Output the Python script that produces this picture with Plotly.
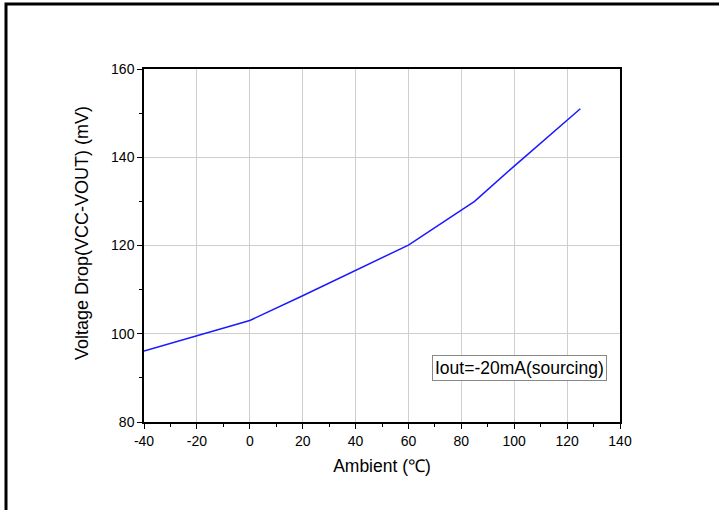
import plotly.graph_objects as go

ambient = [-40, -20, 0, 20, 40, 60, 85, 100, 125]
vdrop = [96.1, 99.6, 103.0, 108.6, 114.3, 120.1, 130.0, 138.0, 151.0]
x_ticks = [-40, -20, 0, 20, 40, 60, 80, 100, 120, 140]
y_ticks = [80, 100, 120, 140, 160]

FONT = "Arial, Liberation Sans, sans-serif"

fig = go.Figure()
fig.add_trace(go.Scatter(x=ambient, y=vdrop, mode="lines",
                         line=dict(color="#1a1aff", width=1.5), showlegend=False))

W, H = 719, 510
L, R, T, B = 144, 99, 69, 88
pw, ph = W - L - R, H - T - B

def px_x(p):
    return (p - L) / pw

def px_y(p):
    return (H - B - p) / ph

fig.add_shape(type="path", xref="paper", yref="paper",
              path=f"M {px_x(6)},{px_y(515)} L {px_x(6)},{px_y(4)} L {px_x(725)},{px_y(4)}",
              line=dict(color="black", width=3))

fig.add_annotation(x=-40 + (519.5 - L) / pw * 180, y=80 + (H - B - 368) / ph * 80,
                   xref="x", yref="y", showarrow=False,
                   text="Iout=-20mA(sourcing)", font=dict(family=FONT, size=17.5, color="black"),
                   bordercolor="#888888", borderwidth=1, borderpad=2, bgcolor="white")

fig.add_annotation(x=px_x(82), y=px_y(233), xref="paper", yref="paper", showarrow=False,
                   text="Voltage Drop(VCC-VOUT) (mV)", textangle=-90,
                   xanchor="center", yanchor="middle",
                   font=dict(family=FONT, size=18, color="black"))

axis_common = dict(showline=True, linecolor="black", linewidth=1.5, mirror=True,
                   ticks="outside", ticklen=5, tickwidth=1, tickcolor="black",
                   showgrid=True, gridcolor="#cfcfcf", gridwidth=1, zeroline=False,
                   tickfont=dict(family=FONT, size=14, color="black"))

fig.update_xaxes(range=[-40, 140], tickvals=x_ticks, ticktext=[str(v) for v in x_ticks],
                 minor=dict(ticks="outside", ticklen=3, dtick=10, tick0=0, tickcolor="black", showgrid=False),
                 title=dict(text="Ambient (℃)", font=dict(family=FONT, size=17.5, color="black"), standoff=12),
                 **axis_common)
fig.update_yaxes(range=[80, 160], tickvals=y_ticks, ticktext=[str(v) for v in y_ticks],
                 minor=dict(ticks="outside", ticklen=3, dtick=10, tick0=0, tickcolor="black", showgrid=False),
                 **axis_common)

fig.update_layout(width=W, height=H, margin=dict(l=L, r=R, t=T, b=B, autoexpand=False),
                  plot_bgcolor="white", paper_bgcolor="white")

fig.write_html("out.html")
